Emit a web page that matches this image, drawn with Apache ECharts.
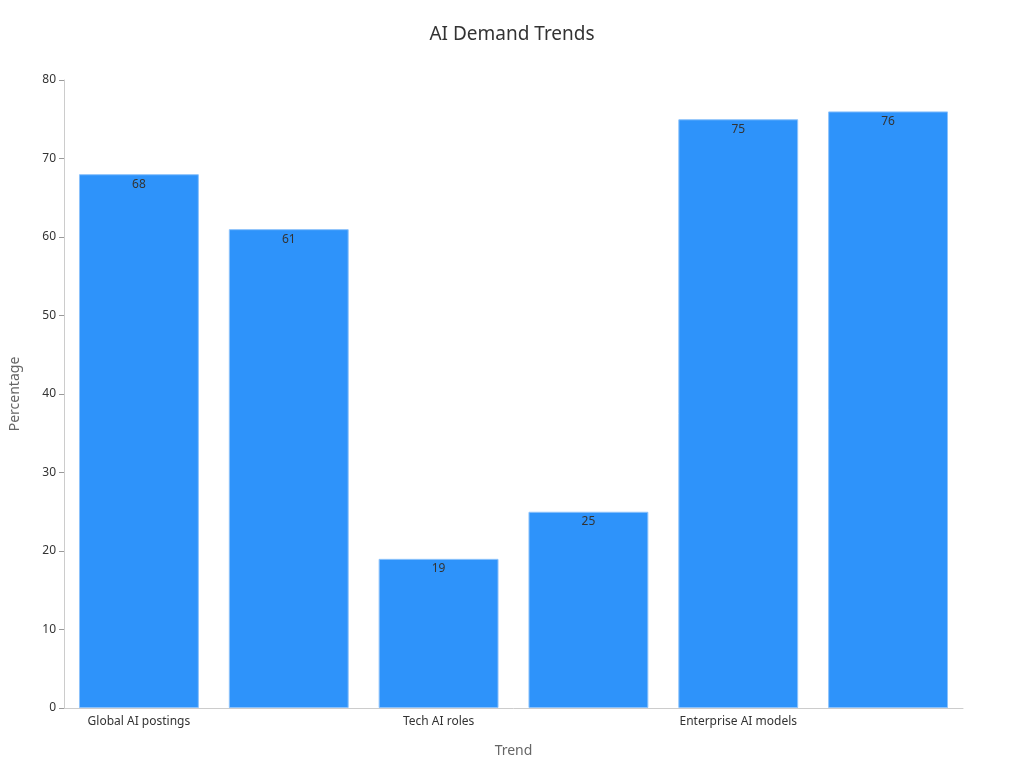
<!DOCTYPE html>
<html><head><meta charset="utf-8">
<script src="https://cdn.jsdelivr.net/npm/echarts@6/dist/echarts.min.js"></script>
<style>html,body{margin:0;padding:0;}#c{width:1024px;height:768px;}</style>
</head><body><div id="c"></div>
<script>
const categories = ["Global AI postings","Yearly AI postings","Tech AI roles","Cyber AI skills","Enterprise AI models","Firm AI shortage"];
const values = [68,61,19,25,75,76];
const chart = echarts.init(document.getElementById('c'));
chart.setOption({
  title:{text:'AI Demand Trends',left:'center',top:20,textStyle:{fontFamily:'Noto Sans',fontSize:19,fontWeight:'normal',color:'#333'}},
  grid:{left:59,right:61,top:80,bottom:60},
  xAxis:{type:'category',data:categories,name:'Trend',nameLocation:'middle',nameGap:36,
    nameTextStyle:{fontFamily:'Noto Sans',fontSize:14,color:'#666'},
    axisLine:{lineStyle:{color:'#ccc'}},axisTick:{show:false},
    axisLabel:{fontFamily:'Noto Sans',fontSize:12,color:'#333'}},
  yAxis:{type:'value',min:0,max:80,interval:10,name:'Percentage',nameLocation:'middle',nameGap:42,
    nameTextStyle:{fontFamily:'Noto Sans',fontSize:14,color:'#666'},
    axisLine:{show:true,lineStyle:{color:'#ccc'}},axisTick:{show:true,lineStyle:{color:'#999'}},
    splitLine:{show:false},axisLabel:{fontFamily:'Noto Sans',fontSize:12,color:'#333'}},
  series:[{type:'bar',data:values,barWidth:'80%',
    itemStyle:{color:'#2E93FA',borderColor:'#8cc2fb',borderWidth:1},
    label:{show:true,position:'insideTop',fontFamily:'Noto Sans',fontSize:12,color:'#333',distance:4}}]
});
</script></body></html>
